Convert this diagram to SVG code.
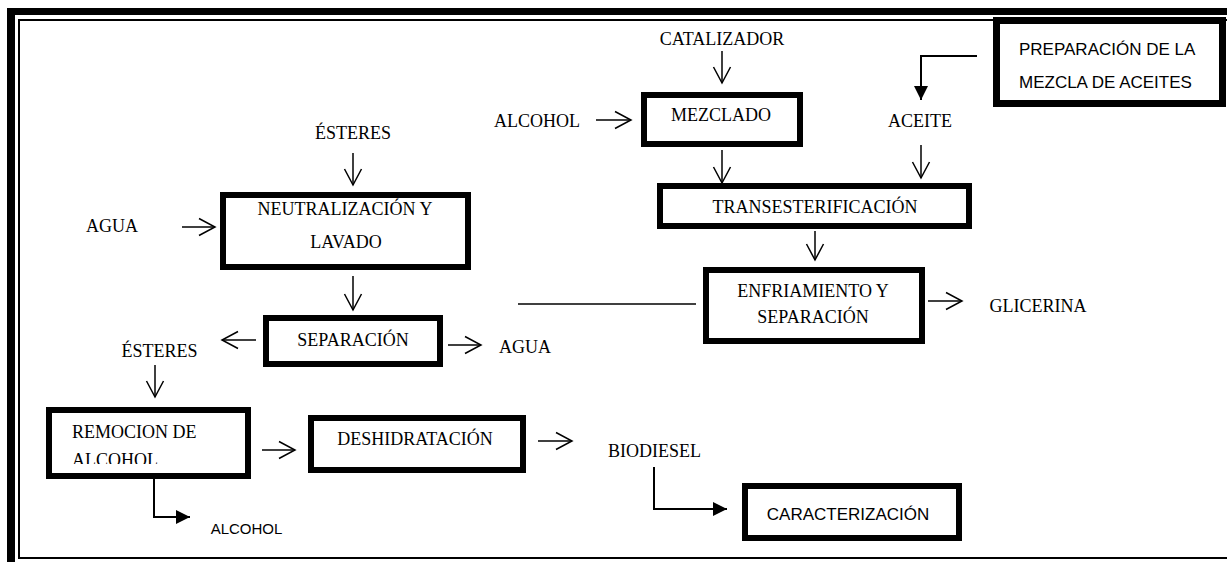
<svg xmlns="http://www.w3.org/2000/svg" width="1227" height="562" viewBox="0 0 1227 562">
<defs>
<style>
.box{fill:#fff;stroke:#000;stroke-width:6}
.s{font-family:"Liberation Serif","Times New Roman",serif;font-size:18px;fill:#000;text-anchor:middle}
.ss{font-family:"Liberation Sans",Arial,sans-serif;font-size:17px;fill:#000}
.c{fill:none;stroke:#000;stroke-width:1.5}
.cf{fill:none;stroke:#000;stroke-width:2}
</style>
<marker id="open" markerUnits="userSpaceOnUse" viewBox="-17 -10 19 20" refX="0" refY="0" markerWidth="19" markerHeight="20" orient="auto" overflow="visible">
<path d="M-16,-8.5 L0,0 L-16,8.5" fill="none" stroke="#000" stroke-width="1.5"/>
</marker>
<marker id="fill" markerUnits="userSpaceOnUse" viewBox="-15 -8 16 16" refX="0" refY="0" markerWidth="16" markerHeight="16" orient="auto" overflow="visible">
<path d="M-14,-7 L0,0 L-14,7 Z" fill="#000"/>
</marker>
<clipPath id="remclip"><rect x="52" y="413" width="193" height="51"/></clipPath>
</defs>
<rect width="1227" height="562" fill="#fff"/>
<g id="border">
<rect x="7" y="8" width="1220" height="7" fill="#000"/>
<rect x="7" y="8" width="8" height="554" fill="#000"/>
<path d="M1227,20 H19 V558 H1227" fill="none" stroke="#000" stroke-width="2"/>
</g>
<g id="connectors">
<line class="c" x1="353" y1="153" x2="353" y2="185" marker-end="url(#open)"/>
<line class="c" x1="182" y1="227" x2="215" y2="227" marker-end="url(#open)"/>
<line class="c" x1="353" y1="276" x2="353" y2="310" marker-end="url(#open)"/>
<line class="c" x1="256" y1="340" x2="222" y2="340" marker-end="url(#open)"/>
<line class="c" x1="448" y1="345" x2="481" y2="345" marker-end="url(#open)"/>
<line class="c" x1="155" y1="365" x2="155" y2="397" marker-end="url(#open)"/>
<line class="c" x1="262" y1="450" x2="295" y2="450" marker-end="url(#open)"/>
<line class="c" x1="538" y1="441" x2="572" y2="441" marker-end="url(#open)"/>
<path class="cf" d="M654,467 V509 H727" marker-end="url(#fill)"/>
<path class="cf" d="M154,479 V517 H190" marker-end="url(#fill)"/>
<line class="c" x1="722" y1="51" x2="722" y2="83" marker-end="url(#open)"/>
<line class="c" x1="596" y1="120" x2="631" y2="120" marker-end="url(#open)"/>
<line class="c" x1="722" y1="150" x2="722" y2="183" marker-end="url(#open)"/>
<line class="c" x1="921" y1="145" x2="921" y2="178" marker-end="url(#open)"/>
<path class="cf" d="M977,56 H921 V100" marker-end="url(#fill)"/>
<line class="c" x1="815" y1="231" x2="815" y2="260" marker-end="url(#open)"/>
<line class="c" x1="518" y1="304" x2="696" y2="304"/>
<line class="c" x1="928" y1="301" x2="962" y2="301" marker-end="url(#open)"/>
</g>
<g id="esteres1"><text class="s" x="353" y="139">ÉSTERES</text></g>
<g id="agua1"><text class="s" x="112" y="232">AGUA</text></g>
<g id="neutralizacion">
<rect class="box" x="223" y="195" width="245" height="72"/>
<text class="s" x="345" y="215">NEUTRALIZACIÓN Y</text>
<text class="s" x="346" y="248">LAVADO</text>
</g>
<g id="separacion">
<rect class="box" x="266" y="318" width="174" height="46"/>
<text class="s" x="353" y="346">SEPARACIÓN</text>
</g>
<g id="esteres2"><text class="s" x="159.5" y="357">ÉSTERES</text></g>
<g id="agua2"><text class="s" x="525" y="353">AGUA</text></g>
<g id="remocion">
<rect class="box" x="49" y="410" width="199" height="66"/>
<g clip-path="url(#remclip)">
<text class="s" x="72" y="438" style="text-anchor:start">REMOCION DE</text>
<text class="s" x="72" y="466" style="text-anchor:start">ALCOHOL</text>
</g>
</g>
<g id="alcohol-out"><text class="ss" x="246.5" y="534" style="font-size:15px;text-anchor:middle">ALCOHOL</text></g>
<g id="deshidratacion">
<rect class="box" x="311" y="418" width="212" height="52"/>
<text class="s" x="415" y="445">DESHIDRATACIÓN</text>
</g>
<g id="biodiesel"><text class="s" x="654.5" y="457">BIODIESEL</text></g>
<g id="caracterizacion">
<rect class="box" x="745" y="486" width="214" height="52"/>
<text class="ss" x="848" y="520" style="text-anchor:middle">CARACTERIZACIÓN</text>
</g>
<g id="catalizador"><text class="s" x="722" y="45">CATALIZADOR</text></g>
<g id="alcohol-in"><text class="s" x="537" y="127">ALCOHOL</text></g>
<g id="mezclado">
<rect class="box" x="644" y="95" width="156" height="49"/>
<text class="s" x="721" y="121">MEZCLADO</text>
</g>
<g id="aceite"><text class="s" x="920" y="127">ACEITE</text></g>
<g id="preparacion">
<rect class="box" x="996.5" y="20.5" width="226" height="83" style="stroke-width:7"/>
<text class="ss" x="1019" y="55">PREPARACIÓN DE LA</text>
<text class="ss" x="1019" y="88">MEZCLA DE ACEITES</text>
</g>
<g id="transesterificacion">
<rect class="box" x="660" y="186" width="309" height="40"/>
<text class="s" x="815" y="213">TRANSESTERIFICACIÓN</text>
</g>
<g id="enfriamiento">
<rect class="box" x="706" y="270" width="216" height="71"/>
<text class="s" x="813" y="297">ENFRIAMIENTO Y</text>
<text class="s" x="813" y="323">SEPARACIÓN</text>
</g>
<g id="glicerina"><text class="s" x="1038" y="312">GLICERINA</text></g>
</svg>
